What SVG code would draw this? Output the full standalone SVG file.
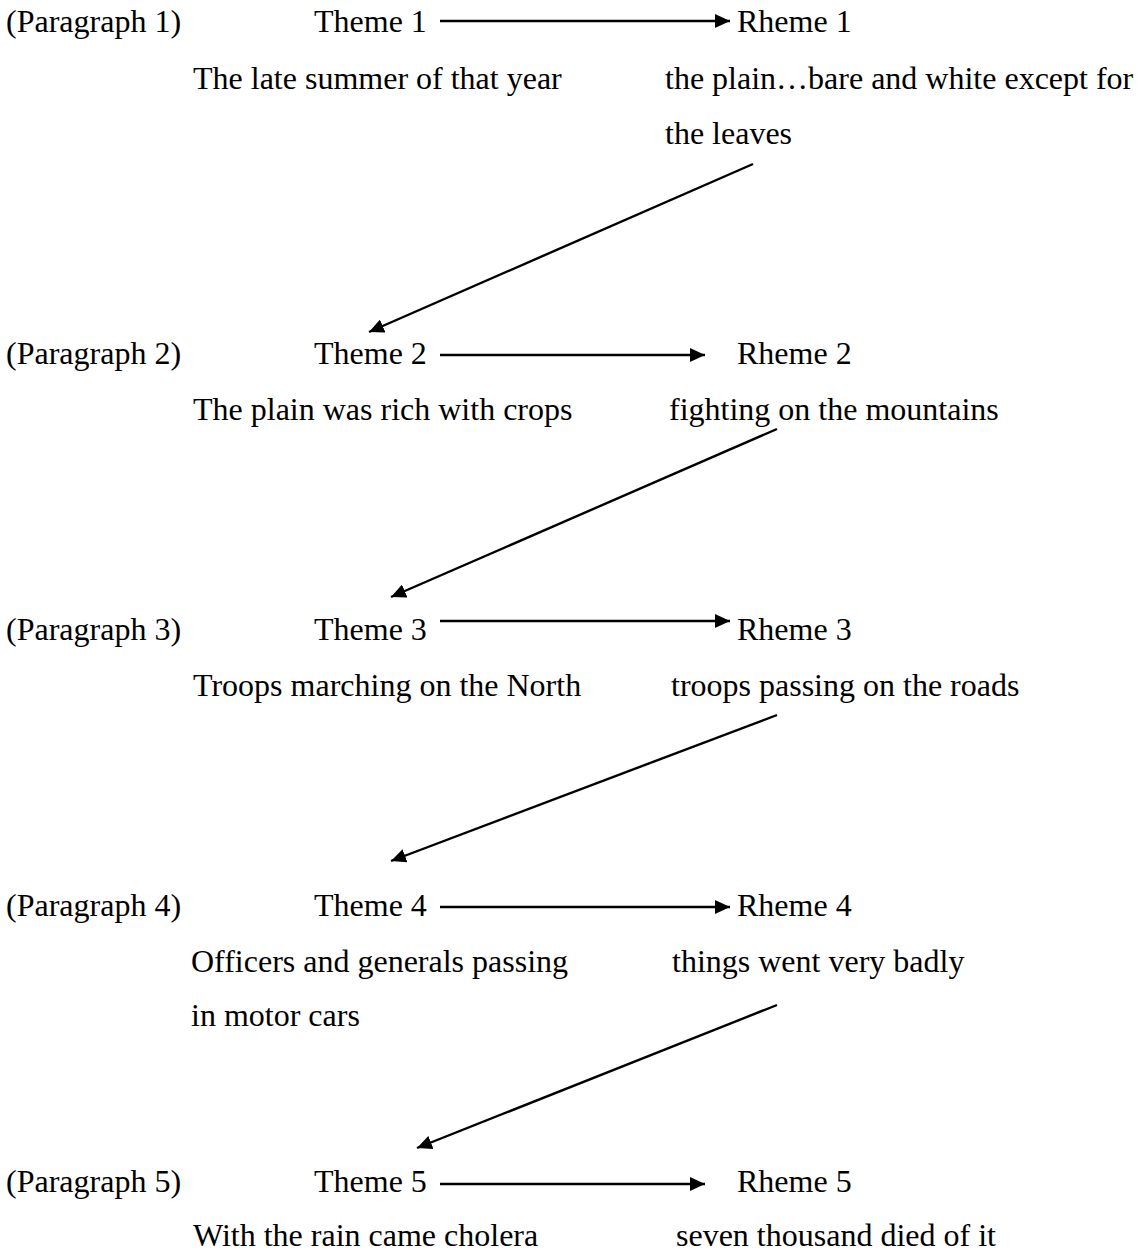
<svg xmlns="http://www.w3.org/2000/svg" width="1141" height="1251" viewBox="0 0 1141 1251">
<defs>
<marker id="ah" markerUnits="userSpaceOnUse" markerWidth="16" markerHeight="14" refX="15" refY="7" orient="auto">
<path d="M0,0 L15,7 L0,14 z" fill="#000"/>
</marker>
<style>
text{font-family:"Liberation Serif","Times New Roman",serif;font-size:32px;fill:#000}
.c{stroke:#000;stroke-width:2.4;fill:none;marker-end:url(#ah)}
</style>
</defs>
<rect width="1141" height="1251" fill="#fff"/>
<g id="p1"><text x="6" y="32">(Paragraph 1)</text></g>
<g id="theme1"><text x="314" y="32">Theme 1</text><text x="193" y="89">The late summer of that year</text></g>
<g id="rheme1"><text x="737" y="32">Rheme 1</text><text x="665" y="89">the plain…bare and white except for</text><text x="665" y="144">the leaves</text></g>
<g id="p2"><text x="6" y="364">(Paragraph 2)</text></g>
<g id="theme2"><text x="314" y="364">Theme 2</text><text x="193" y="420">The plain was rich with crops</text></g>
<g id="rheme2"><text x="737" y="364">Rheme 2</text><text x="669" y="420">fighting on the mountains</text></g>
<g id="p3"><text x="6" y="640">(Paragraph 3)</text></g>
<g id="theme3"><text x="314" y="640">Theme 3</text><text x="193" y="696">Troops marching on the North</text></g>
<g id="rheme3"><text x="737" y="640">Rheme 3</text><text x="671" y="696">troops passing on the roads</text></g>
<g id="p4"><text x="6" y="916">(Paragraph 4)</text></g>
<g id="theme4"><text x="314" y="916">Theme 4</text><text x="191" y="972">Officers and generals passing</text><text x="191" y="1026"> in motor cars</text></g>
<g id="rheme4"><text x="737" y="916">Rheme 4</text><text x="672" y="972">things went very badly</text></g>
<g id="p5"><text x="6" y="1192">(Paragraph 5)</text></g>
<g id="theme5"><text x="314" y="1192">Theme 5</text><text x="193" y="1246">With the rain came cholera</text></g>
<g id="rheme5"><text x="737" y="1192">Rheme 5</text><text x="676" y="1246">seven thousand died of it</text></g>
<g id="connectors">
<line class="c" x1="440" y1="21" x2="730" y2="21"/>
<line class="c" x1="753" y1="164" x2="369" y2="332"/>
<line class="c" x1="440" y1="355" x2="705" y2="355"/>
<line class="c" x1="777" y1="429" x2="391" y2="597"/>
<line class="c" x1="440" y1="621" x2="730" y2="621"/>
<line class="c" x1="777" y1="715" x2="391" y2="861"/>
<line class="c" x1="440" y1="907" x2="730" y2="907"/>
<line class="c" x1="777" y1="1005" x2="417" y2="1148"/>
<line class="c" x1="440" y1="1184" x2="705" y2="1184"/>
</g>
</svg>
